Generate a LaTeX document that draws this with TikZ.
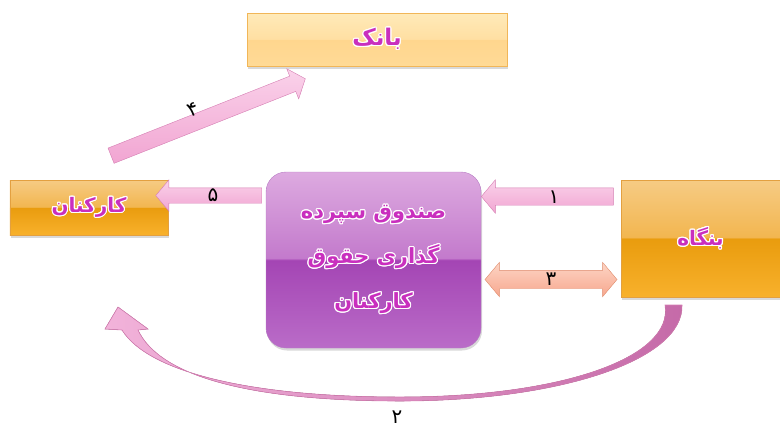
\documentclass[tikz,border=0pt]{standalone}
\usepackage{fontspec}
\usepackage{contour}
\usetikzlibrary{positioning,calc,shapes.arrows,shadows}
\TeXXeTstate=1
\newfontfamily\arabicfont[Script=Arabic]{DejaVu Sans}
\contourlength{1.1pt}

\definecolor{orgA}{HTML}{F6CB84}
\definecolor{orgB}{HTML}{F2B650}
\definecolor{orgC}{HTML}{E99C0E}
\definecolor{orgD}{HTML}{F8B12C}
\definecolor{orgline}{HTML}{E3A040}
\definecolor{bnkA}{HTML}{FFEAB9}
\definecolor{bnkB}{HTML}{FFDFA2}
\definecolor{bnkC}{HTML}{FFD68E}
\definecolor{bnkD}{HTML}{FFDA96}
\definecolor{bnkline}{HTML}{F1B658}
\definecolor{prpA}{HTML}{DDAAE0}
\definecolor{prpB}{HTML}{C37ACC}
\definecolor{prpC}{HTML}{A445B4}
\definecolor{prpD}{HTML}{BA6CC8}
\definecolor{prpline}{HTML}{B77CC4}
\definecolor{pinktop}{HTML}{FAD2EA}
\definecolor{pinkbot}{HTML}{F1A5D2}
\definecolor{pinkline}{HTML}{D57DB2}
\definecolor{salmtop}{HTML}{FDD5C5}
\definecolor{salmbot}{HTML}{F7A78E}
\definecolor{salmline}{HTML}{DF8A6A}
\definecolor{curvL}{HTML}{F2B3DA}
\definecolor{curvR}{HTML}{C56AA8}
\definecolor{labelpink}{HTML}{C92FBE}

\pgfdeclareverticalshading{glossorange}{100bp}{color(0bp)=(orgD); color(25bp)=(orgD); color(50bp)=(orgC); color(50.5bp)=(orgB); color(75bp)=(orgA); color(100bp)=(orgA)}
\pgfdeclareverticalshading{glossbank}{100bp}{color(0bp)=(bnkD); color(25bp)=(bnkD); color(50bp)=(bnkC); color(50.5bp)=(bnkB); color(75bp)=(bnkA); color(100bp)=(bnkA)}
\pgfdeclareverticalshading{glosspurple}{100bp}{color(0bp)=(prpD); color(25bp)=(prpD); color(50bp)=(prpC); color(50.5bp)=(prpB); color(75bp)=(prpA); color(100bp)=(prpA)}

\newcommand{\faText}[1]{\contour{white}{\beginR #1\endR}}

\begin{document}
\begin{tikzpicture}[x=1bp, y=-1bp,
    boxshadow/.style={drop shadow={opacity=0.3, shadow xshift=1bp, shadow yshift=-2.5bp}},
    orangebox/.style={rectangle, draw=orgline, shading=glossorange, boxshadow,
        outer sep=0pt, text=labelpink, font=\arabicfont\bfseries\fontsize{20}{22}\selectfont},
    bankbox/.style={rectangle, draw=bnkline, shading=glossbank, boxshadow,
        outer sep=0pt, text=labelpink, font=\arabicfont\bfseries\fontsize{23}{25}\selectfont},
    fundbox/.style={rectangle, rounded corners=20bp, draw=prpline, shading=glosspurple, boxshadow,
        outer sep=0pt, align=center, text=labelpink, font=\arabicfont\bfseries\fontsize{21}{45}\selectfont},
    fatarrow/.style={single arrow, draw=pinkline, top color=pinktop, bottom color=pinkbot,
        inner sep=0pt, single arrow head extend=8bp, single arrow tip angle=100, outer sep=0pt},
    twoarrow/.style={double arrow, draw=salmline, top color=salmtop, bottom color=salmbot,
        inner sep=0pt, double arrow head extend=8bp, double arrow tip angle=100, outer sep=0pt},
    digit/.style={font=\arabicfont\fontsize{20}{22}\selectfont, inner sep=0pt}]
  \useasboundingbox (0,0) rectangle (780,430);
  % boxes
  \node[bankbox, minimum width=260bp, minimum height=53bp] (bank) at (377,39.5) {\faText{بانک}};
  \node[orangebox, minimum width=158bp, minimum height=55bp] (kar) at (89,207.5) {\faText{کارکنان}};
  \node[orangebox, minimum width=159bp, minimum height=117bp] (bongah) at (700.5,238.5) {\faText{بنگاه}};
  %
  \node[fatarrow, inner ysep=7.5bp, minimum height=106bp, shape border rotate=180] (a5)
    at ($(kar.east)+(44,-12)$) {};
  \node[digit] (d5) at ($(a5)+(1,0)$) {\beginR ۵\endR};
  %
  \node[fundbox, minimum width=215bp, minimum height=176bp] (sandogh) at (373.5,260)
    {\faText{صندوق سپرده}\\ \faText{گذاری حقوق}\\ \faText{کارکنان}};
  % arrows between fund and bongah
  \node[fatarrow, inner ysep=8.5bp, minimum height=132bp, shape border rotate=180] (a1)
    at ($(sandogh.east |- 0,196.5)!0.5!(bongah.west |- 0,196.5)$) {};
  \node[digit] (d1) at ($(a1)+(3,1)$) {\beginR ۱\endR};
  \node[twoarrow, inner ysep=9bp, minimum height=132bp] (a3)
    at ($(sandogh.east |- 0,279.5)!0.5!(bongah.west |- 0,279.5)$) {};
  \node[digit] (d3) at ($(a3)+(0,0)$) {\beginR ۳\endR};
  % kar to bank
  \coordinate (t4) at ($(kar.north)+(19,-23)$);
  \coordinate (h4) at ($(bank.south west)+(55,14)$);
  \node[fatarrow, inner ysep=8bp, minimum height=209bp, rotate=21.6] (a4) at ($(t4)!0.5!(h4)$) {};
  \node[digit, rotate=21.6] (d4) at (193,110) {\beginR ۴\endR};
  % bongah back to kar
  \coordinate (s2) at ($(bongah.south)+(-27,8)$);
  \coordinate (e2) at ($(kar.south)+(29,72)$);
  \filldraw[draw=pinkline, line width=0.6bp, left color=curvL, right color=curvR]
    ($(s2)+(8.5,0)$) .. controls (684,360) and (560,401) .. (400,401)
    .. controls (252,401) and (160,377) .. ($(e2)+(20,23)$)
    -- ($(e2)+(30,22)$) -- (e2) -- ($(e2)+(-13,22)$) -- ($(e2)+(4,23)$)
    .. controls (148,372) and (250,397) .. (400,397)
    .. controls (560,397) and (674,358) .. ($(s2)+(-8.5,0)$) -- cycle;
  \node[digit] (d2) at (397,417) {\beginR ۲\endR};
\end{tikzpicture}
\end{document}
